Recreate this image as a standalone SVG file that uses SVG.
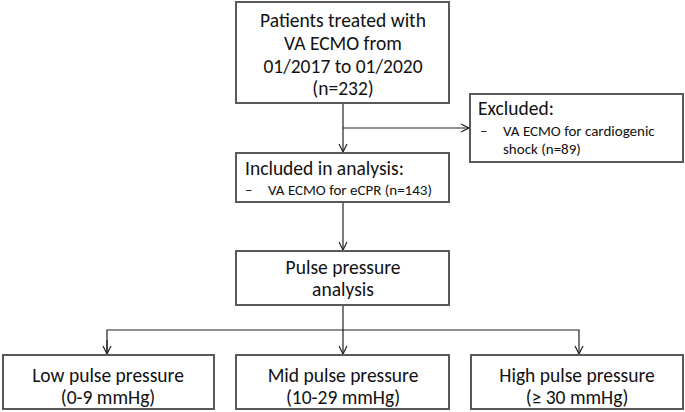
<svg xmlns="http://www.w3.org/2000/svg" width="685" height="412" viewBox="0 0 685 412">
<style>
.box{fill:#fff;stroke:#595959;stroke-width:2}
.t{font-family:Carlito,Lato,"Liberation Sans",sans-serif;fill:#111}
.h{font-size:19.5px}
.s{font-size:15px}
.c{text-anchor:middle}
.ln{fill:none;stroke:#222;stroke-width:1.2}
</style>
<defs>
<marker id="arr" markerUnits="userSpaceOnUse" markerWidth="12" markerHeight="12" refX="9" refY="5" orient="auto" viewBox="0 0 12 12">
<path d="M1,1 L9,5 L1,9" fill="none" stroke="#222" stroke-width="1.2"/>
</marker>
</defs>
<rect width="685" height="412" fill="#fff"/>
<g id="connectors">
<path class="ln" d="M343,103 V152" marker-end="url(#arr)"/>
<path class="ln" d="M343,128 H469" marker-end="url(#arr)"/>
<path class="ln" d="M343,202 V250" marker-end="url(#arr)"/>
<path class="ln" d="M343,305 V354" marker-end="url(#arr)"/>
<path class="ln" d="M107,354 V330 H579 V354" marker-end="url(#arr)"/>
<path class="ln" d="M107,340 V354" marker-end="url(#arr)"/>
</g>
<g id="start">
<rect class="box" x="236" y="2" width="213" height="101"/>
<text class="t h c" x="343" y="27">Patients treated with</text>
<text class="t h c" x="343" y="50">VA ECMO from</text>
<text class="t h c" x="343" y="73">01/2017 to 01/2020</text>
<text class="t h c" x="343" y="95">(n=232)</text>
</g>
<g id="excluded">
<rect class="box" x="470" y="94" width="213" height="68"/>
<text class="t h" x="478" y="115">Excluded:</text>
<text class="t s" x="480" y="136">–</text>
<text class="t s" x="503" y="136">VA ECMO for cardiogenic</text>
<text class="t s" x="503" y="154">shock (n=89)</text>
</g>
<g id="included">
<rect class="box" x="236" y="153" width="213" height="49"/>
<text class="t h" x="245" y="175">Included in analysis:</text>
<text class="t s" x="245" y="195">–</text>
<text class="t s" x="268" y="195">VA ECMO for eCPR (n=143)</text>
</g>
<g id="pulse">
<rect class="box" x="236" y="251" width="213" height="54"/>
<text class="t h c" x="343" y="274">Pulse pressure</text>
<text class="t h c" x="343" y="296">analysis</text>
</g>
<g id="low">
<rect class="box" x="3" y="355" width="211" height="54"/>
<text class="t h c" x="108" y="382">Low pulse pressure</text>
<text class="t h c" x="108" y="404">(0-9 mmHg)</text>
</g>
<g id="mid">
<rect class="box" x="236" y="355" width="213" height="54"/>
<text class="t h c" x="343" y="382">Mid pulse pressure</text>
<text class="t h c" x="343" y="404">(10-29 mmHg)</text>
</g>
<g id="high">
<rect class="box" x="471" y="355" width="212" height="54"/>
<text class="t h c" x="577" y="382">High pulse pressure</text>
<text class="t h c" x="577" y="404">(≥ 30 mmHg)</text>
</g>
</svg>
